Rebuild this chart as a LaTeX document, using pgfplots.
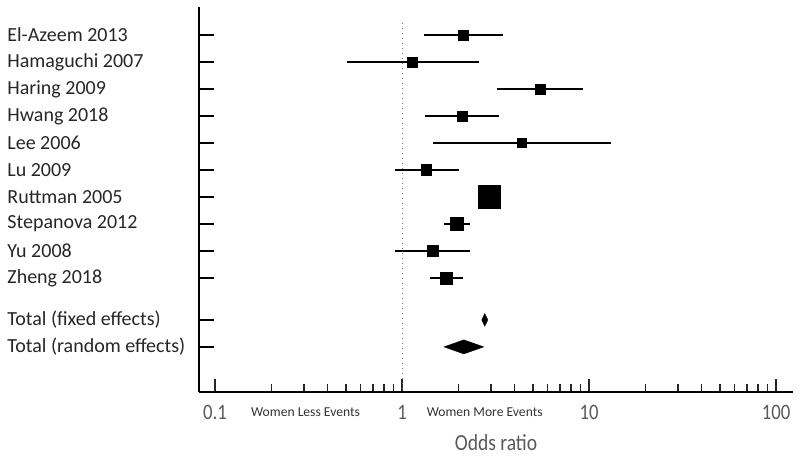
\documentclass[border=0pt]{standalone}
\usepackage{pgfplots}
\pgfplotsset{compat=1.18}
\usepackage{pgfplotstable}
\usepackage{fontspec}
\setmainfont{Carlito}
\usepackage{graphicx}

\pgfplotstableread{
y   est    ms
1   2.13   2.5
2   1.131  2.5
3   5.47   2.5
4   2.094  2.5
5   4.40   2.3
6   1.356  2.6
7   2.926  5.6
8   1.961  3.25
9   1.465  2.75
10  1.740  3.0
}\studies

\begin{document}
\begin{tikzpicture}
\begin{axis}[
  name=ax,
  scale only axis, width=296.7pt, height=192.35pt,
  xmode=log, xmin=0.0824, xmax=122.8,
  ymin=-0.037, ymax=14.21, y dir=reverse,
  axis x line=bottom, axis y line=left,
  axis line style={-, line width=1pt, black},
  tick align=inside,
  major tick length=6.5pt, minor tick length=4pt,
  /pgf/number format/assume math mode=true,
  xtick={0.1,1,10,100},
  minor xtick={0.2,0.3,0.4,0.5,0.6,0.7,0.8,0.9,2,3,4,5,6,7,8,9,20,30,40,50,60,70,80,90},
  xticklabel={\scalebox{0.85}[1]{\pgfmathparse{exp(\tick)}\pgfmathprintnumber[fixed relative, precision=3]{\pgfmathresult}}},
  xtick style={line width=0.8pt, black!85, /pgfplots/major tick length=6.5pt, /pgfplots/minor tick length=4pt},
  ytick style={line width=0.7pt, black, /pgfplots/major tick length=7.5pt},
  ytick={1,2,3,4,5,6,7,8,9,10,11.55,12.55},
  yticklabels={El-Azeem 2013, Hamaguchi 2007, Haring 2009, Hwang 2018, Lee 2006, Lu 2009, Ruttman 2005, Stepanova 2012, Yu 2008, Zheng 2018, Total (fixed effects), Total (random effects)},
  yticklabel style={anchor=west, inner xsep=0pt, xshift=-96.15pt, font=\fontsize{10}{12}\selectfont, text=black!85},
  xticklabel style={anchor=center, yshift=-10.15pt, font=\fontsize{11}{13}\selectfont, text=black!65},
  xlabel={\scalebox{0.85}[1]{Odds ratio}},
  xlabel style={at={(axis description cs:0.5,-0.1333)}, anchor=center, font=\fontsize{11.5}{13}\selectfont, text=black!65},
  clip=false,
]
% reference line at OR = 1
\addplot[black!55, dotted, line width=0.5pt] coordinates {(1,0.56) (1,14.21)};

% confidence intervals
\addplot[black, line width=1pt] coordinates {(1.311,1) (3.456,1)};
\addplot[black, line width=1pt] coordinates {(0.506,2) (2.58,2)};
\addplot[black, line width=1pt] coordinates {(3.22,3) (9.29,3)};
\addplot[black, line width=1pt] coordinates {(1.327,4) (3.30,4)};
\addplot[black, line width=1pt] coordinates {(1.472,5) (13.18,5)};
\addplot[black, line width=1pt] coordinates {(0.914,6) (2.018,6)};
\addplot[black, line width=1pt] coordinates {(2.65,7) (3.20,7)};
\addplot[black, line width=1pt] coordinates {(1.677,8) (2.31,8)};
\addplot[black, line width=1pt] coordinates {(0.914,9) (2.322,9)};
\addplot[black, line width=1pt] coordinates {(1.419,10) (2.119,10)};

% study estimates
\addplot[scatter, only marks, mark=square*,
  scatter/use mapped color={draw=black, fill=black},
  mark options={line width=0pt},
  visualization depends on={\thisrow{ms}\as\msize},
  scatter/@pre marker code/.append style={/tikz/mark size=\msize pt}]
  table[x=est, y=y] {\studies};

% pooled estimates
\addplot[fill=black, draw=black, line width=0.2pt] coordinates {(2.67,11.55) (2.77,11.315) (2.88,11.55) (2.77,11.785)} --cycle;
\addplot[fill=black, draw=black, line width=0.2pt] coordinates {(1.677,12.55) (2.14,12.29) (2.735,12.55) (2.14,12.81)} --cycle;

\node[font=\fontsize{6.8}{8}\selectfont, text=black!80] at (axis cs:0.305,14.96) {Women Less Events};
\node[font=\fontsize{6.8}{8}\selectfont, text=black!80] at (axis cs:2.77,14.96) {Women More Events};
\end{axis}
\pgfresetboundingbox
\path ([xshift=-99.65pt, yshift=-32.65pt]ax.south west) rectangle ([xshift=3.65pt, yshift=3.5pt]ax.north east);
\end{tikzpicture}
\end{document}
